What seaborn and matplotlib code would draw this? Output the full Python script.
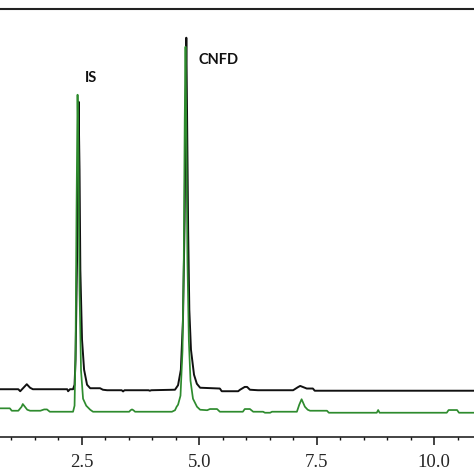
import numpy as np
import pandas as pd
import matplotlib
matplotlib.use("Agg")
import matplotlib.pyplot as plt
from matplotlib.ticker import MultipleLocator
import seaborn as sns

# retention time (min) / detector response for the two runs
green_time = [0.70, 0.97, 1.01, 1.15, 1.22, 1.245, 1.29, 1.34, 1.40, 1.62, 1.70, 1.76, 1.82,
              2.315, 2.347, 2.368, 2.389, 2.411, 2.432, 2.453, 2.485, 2.528, 2.596, 2.68, 2.74,
              3.51, 3.54, 3.57, 3.60, 3.635, 4.42, 4.485, 4.52, 4.55, 4.602, 4.645, 4.672, 4.692,
              4.709, 4.728, 4.75, 4.78, 4.815, 4.868, 4.953, 5.02, 5.17, 5.23, 5.38, 5.44, 5.93,
              5.97, 6.08, 6.15, 6.36, 6.40, 6.51, 6.55, 7.08, 7.13, 7.18, 7.25, 7.31, 7.36, 7.72,
              7.76, 8.78, 8.81, 8.84, 10.27, 10.31, 10.49, 10.53, 10.90]
green_signal = [2.4, 2.4, 0, 0, 4, 6.7, 4, 1, 0, 0, 1.3, 1.3, -1,
                -1, 5, 60, 200, 316, 250, 120, 40, 12, 5, 1, -1,
                -1, 0.5, 1.3, 0.5, -1, -1, 0.5, 4, 6, 15, 60, 150, 290,
                364, 270, 150, 70, 30, 12, 4, 1, 0.5, 1.7, 1.7, -1, -1,
                1.7, 1.7, -1, -1, -2, -2, -1, -1, 6, 11.5, 4, 1, 0, 0,
                -2, -2, 0.7, -2, -2, 0.7, 0.7, -2, -2]

black_time = [0.70, 1.15, 1.19, 1.26, 1.33, 1.40, 1.46, 2.19, 2.21, 2.25, 2.315, 2.347, 2.368,
              2.40, 2.432, 2.453, 2.47, 2.506, 2.55, 2.613, 2.68, 2.89, 2.95, 3.04, 3.35, 3.38,
              3.41, 3.92, 3.95, 3.98, 4.485, 4.55, 4.61, 4.655, 4.69, 4.712, 4.726, 4.745, 4.765,
              4.79, 4.825, 4.89, 4.95, 5.02, 5.44, 5.48, 5.83, 5.87, 5.97, 6.02, 6.08, 6.25, 7.00,
              7.10, 7.15, 7.22, 7.29, 7.42, 7.46, 10.90]
black_signal = [0.5, 0.5, -1.5, 2, 5.5, 2, 0.5, 0.5, -1.5, 0.5, 0.5, 5, 30,
                130, 288, 220, 120, 50, 20, 5, 1.5, 1.5, 0, -0.5, -0.5, -1.7,
                -0.5, -0.5, -1, -0.5, 0, 4.5, 20, 70, 170, 290, 352, 260, 160,
                80, 40, 15, 6, 2, 1.2, -1.5, -1.5, 0, 2.8, 2.8, 0, -0.5, -0.5,
                2.5, 3.8, 2.5, 1.2, 1.2, -1, -1]

peak_names = ["IS", "CNFD"]
peak_label_time = [2.56, 4.99]
peak_label_height = [333, 351]

black_offset = 21  # upper trace shifted up for display

green_df = pd.DataFrame({"time": green_time, "signal": green_signal})
black_df = pd.DataFrame({"time": black_time, "signal": np.array(black_signal) + black_offset})

sns.set_theme(style="white")
plt.rcParams["font.family"] = ["Liberation Serif", "DejaVu Serif"]

fig = plt.figure(figsize=(4.74, 4.74), dpi=100)
ax = fig.add_axes([0, 0.078, 1, 0.904])

sns.lineplot(data=black_df, x="time", y="signal", ax=ax, color="#111111",
             linewidth=1.4, estimator=None, sort=False)
sns.lineplot(data=green_df, x="time", y="signal", ax=ax, color="#2e8b2e",
             linewidth=1.25, estimator=None, sort=False)

for name, t, h in zip(peak_names, peak_label_time, peak_label_height):
    ax.text(t, h, name, ha="left", va="center", fontsize=10.5, fontweight="bold",
            family=["Lato", "DejaVu Sans"], color="#111111")

ax.set_xlim(0.76, 10.85)
ax.set_ylim(-26.3, 402.2)

ax.xaxis.set_major_locator(MultipleLocator(2.5))
ax.xaxis.set_minor_locator(MultipleLocator(0.5))
ax.xaxis.set_major_formatter(matplotlib.ticker.FormatStrFormatter("%.1f"))
ax.tick_params(axis="x", which="major", direction="out", length=6, width=1.1,
               color="#111111", labelsize=13.5, pad=6, bottom=True)
ax.tick_params(axis="x", which="minor", direction="out", length=2.5, width=1.0,
               color="#111111", bottom=True)
ax.set_yticks([])
ax.set_xlabel("")
ax.set_ylabel("")

ax.spines["left"].set_visible(False)
ax.spines["right"].set_visible(False)
ax.spines["top"].set_linewidth(1.5)
ax.spines["top"].set_color("#222222")
ax.spines["bottom"].set_linewidth(1.1)
ax.spines["bottom"].set_color("#111111")

fig.savefig("out.png", dpi=100)
